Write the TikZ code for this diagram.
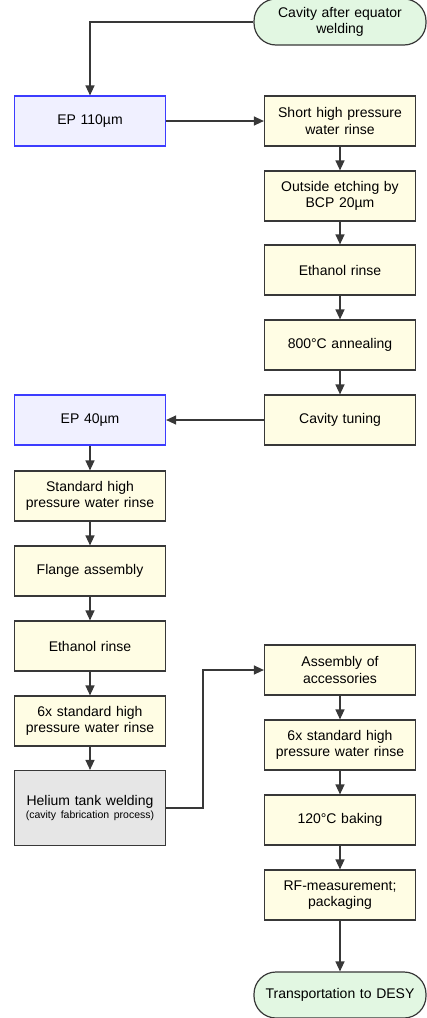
\documentclass[tikz,border=0pt]{standalone}
\usepackage{fontspec}
\setmainfont{Liberation Sans}
\usepackage{tikz}
\usetikzlibrary{positioning}
\usetikzlibrary{arrows.meta}
\definecolor{cream}{RGB}{255,253,228}
\definecolor{epfill}{RGB}{240,240,255}
\definecolor{epline}{RGB}{60,60,255}
\definecolor{termfill}{RGB}{226,247,226}
\definecolor{weldfill}{RGB}{230,230,230}
\definecolor{lines}{RGB}{56,56,56}
\tikzstyle{process}=[rectangle,draw=lines,fill=cream,line width=1.2pt,minimum width=151pt,minimum height=50pt,text width=145pt,align=center,inner sep=2pt,font=\fontsize{14}{16.5}\selectfont]
\tikzstyle{epbox}=[process,draw=epline,fill=epfill]
\tikzstyle{weldbox}=[process,fill=weldfill,minimum height=75pt]
\tikzstyle{terminal}=[process,rounded corners=22pt,fill=termfill,minimum width=172pt,minimum height=46pt,text width=166pt]
\tikzstyle{edge}=[draw=lines,line width=1.3pt,-{Triangle[length=10pt,width=9pt]}]

\begin{document}
\begin{tikzpicture}[x=1pt,y=-1pt]
\useasboundingbox (0,0) rectangle (426,1018);

% start and end
    \node[terminal] (cav) at (340,22) {Cavity after equator\\welding};
    \node[terminal] (desy) at (340,995) {Transportation to DESY};

% electropolishing steps
    \foreach \pos/\name/\label in {{(90,121)/ep1/EP 110µm}, {(90,420)/ep2/EP 40µm}}
        \node[epbox] (\name) at \pos {\label};

% the other steps
    \foreach \pos/\name/\label in {{(340,121)/hpr1/Short high pressure\\water rinse}, {(340,196)/bcp/Outside etching by\\BCP 20µm}, {(340,270)/eth1/Ethanol rinse}, {(340,345)/anneal/800°C annealing}, {(340,420)/tune/Cavity tuning}, {(90,496)/hpr2/Standard high\\pressure water rinse}, {(90,571)/flange/Flange assembly}, {(90,646)/eth2/Ethanol rinse}, {(90,721)/hpr3/6x standard high\\pressure water rinse}, {(340,670)/acc/Assembly of\\accessories}, {(340,745)/hpr4/6x standard high\\pressure water rinse}, {(340,820)/bake/120°C baking}, {(340,895)/rf/RF-measurement;\\packaging}}
        \node[process] (\name) at \pos {\label};

    \node[weldbox] (weld) at (90,808) {Helium tank welding\\[-3.5pt]{\fontsize{10.5}{12}\selectfont (cavity fabrication process)}};

% Connect the steps
  \foreach \source/ \dest in {ep1/hpr1, hpr1/bcp, bcp/eth1, eth1/anneal, anneal/tune, tune/ep2, ep2/hpr2, hpr2/flange, flange/eth2, eth2/hpr3, hpr3/weld, acc/hpr4, hpr4/bake, bake/rf, rf/desy}
          \path[edge] (\source) -- (\dest);

  \path[edge] (cav.west) -| (ep1.north);
  \path[edge] (weld.east) -- ++(37,0) |- (acc.west);

\end{tikzpicture}
\end{document}
